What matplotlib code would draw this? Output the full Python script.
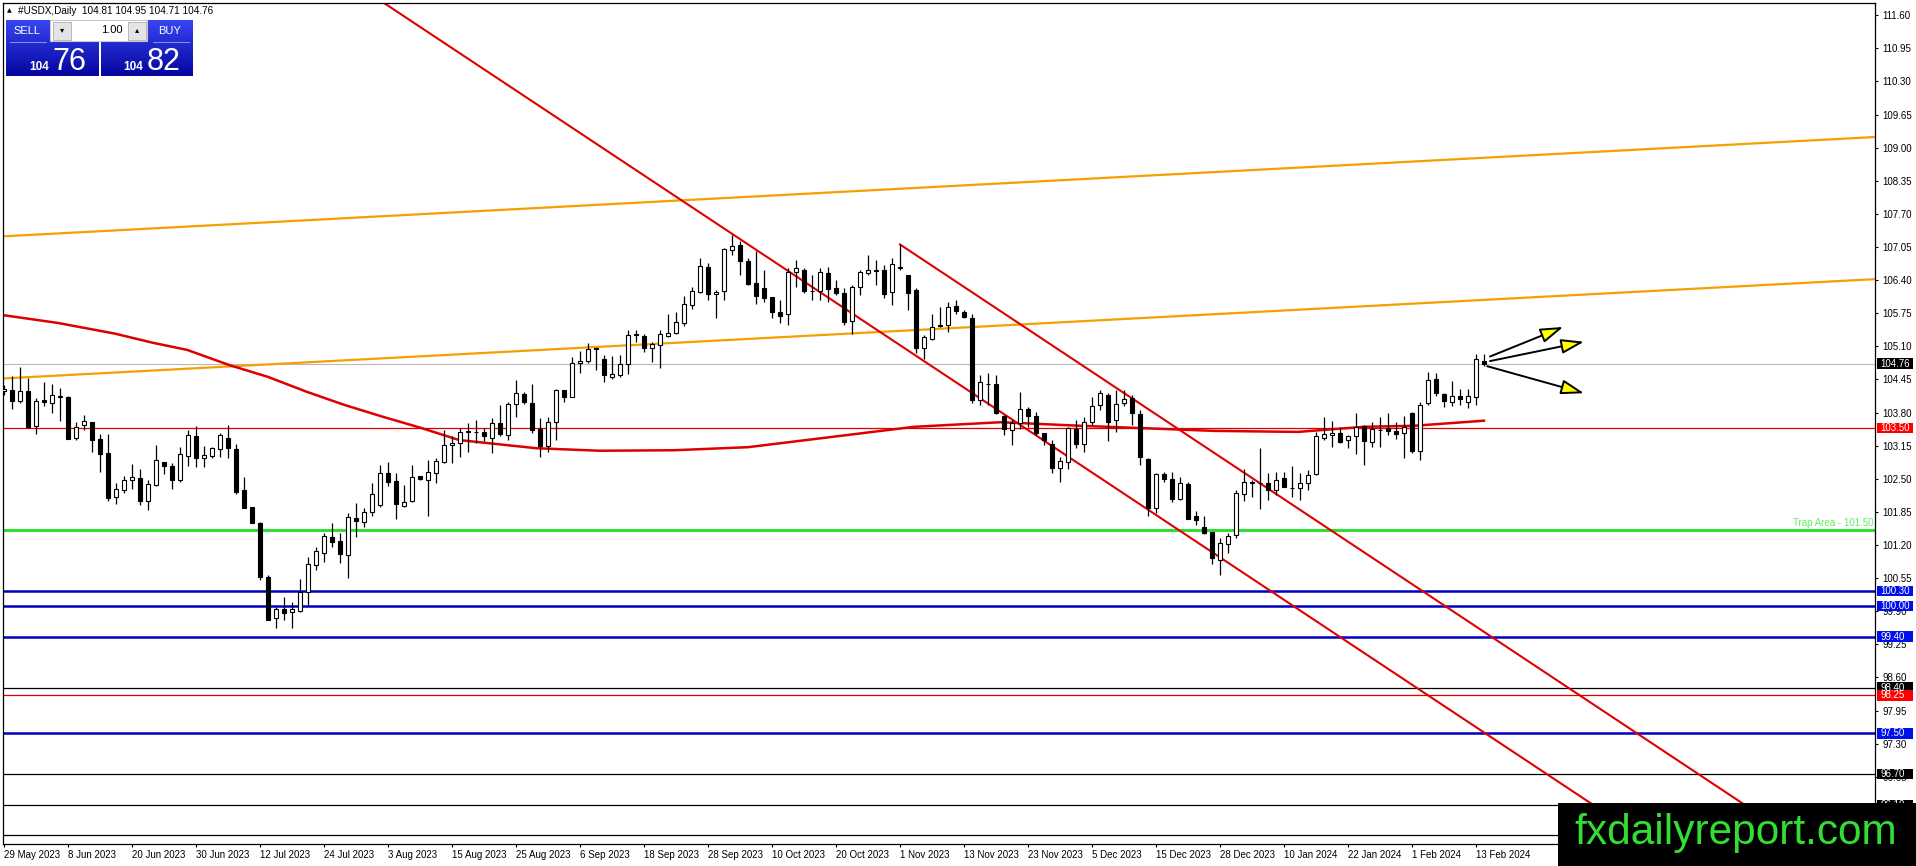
import numpy as np
import matplotlib
matplotlib.use('Agg')
import matplotlib.pyplot as plt
import matplotlib.transforms as mtransforms
from matplotlib.patches import Rectangle, FancyArrowPatch

# daily bars 29 May 2023 .. 14 Feb 2024 (o, h, l, c)
ohlc = [
    (104.23, 104.35, 104.15, 104.27), (104.25, 104.52, 103.86, 104.03), (104.03, 104.70, 103.99, 104.22),
    (104.22, 104.47, 103.49, 103.51), (103.54, 104.08, 103.37, 104.03), (104.05, 104.39, 103.92, 104.00),
    (103.98, 104.36, 103.80, 104.14), (104.11, 104.29, 103.64, 104.12), (104.11, 104.12, 103.28, 103.29),
    (103.31, 103.62, 103.27, 103.52), (103.55, 103.75, 103.46, 103.63), (103.62, 103.62, 103.03, 103.26),
    (103.29, 103.38, 102.64, 102.99), (103.00, 103.38, 102.06, 102.13), (102.14, 102.41, 102.00, 102.29),
    (102.27, 102.55, 102.23, 102.48), (102.48, 102.79, 102.29, 102.53), (102.51, 102.70, 101.99, 102.07),
    (102.07, 102.48, 101.89, 102.40), (102.38, 103.16, 102.36, 102.87), (102.82, 102.82, 102.59, 102.76),
    (102.75, 102.80, 102.30, 102.48), (102.48, 103.13, 102.44, 102.98), (102.95, 103.46, 102.75, 103.36),
    (103.34, 103.53, 102.74, 102.90), (102.91, 103.14, 102.74, 102.97), (102.95, 103.13, 102.90, 103.10),
    (103.08, 103.39, 102.93, 103.36), (103.31, 103.55, 102.90, 103.10), (103.08, 103.18, 102.21, 102.25),
    (102.27, 102.54, 101.93, 101.93), (101.95, 101.95, 101.64, 101.64), (101.64, 101.66, 100.51, 100.58),
    (100.57, 100.61, 99.72, 99.73), (99.76, 99.99, 99.58, 99.94), (99.94, 100.17, 99.73, 99.87),
    (99.88, 100.09, 99.58, 99.94), (99.91, 100.53, 99.89, 100.27), (100.27, 100.96, 100.02, 100.82),
    (100.81, 101.17, 100.70, 101.08), (101.04, 101.43, 100.87, 101.38), (101.36, 101.64, 101.17, 101.25),
    (101.27, 101.43, 100.84, 101.02), (101.00, 101.82, 100.55, 101.74), (101.73, 102.03, 101.35, 101.68),
    (101.66, 101.92, 101.56, 101.85), (101.85, 102.41, 101.76, 102.21), (101.99, 102.77, 101.95, 102.62),
    (102.61, 102.82, 102.35, 102.44), (102.46, 102.61, 101.72, 102.00), (101.97, 102.38, 101.95, 102.05),
    (102.07, 102.78, 102.05, 102.53), (102.55, 102.55, 102.48, 102.49), (102.48, 102.87, 101.76, 102.63),
    (102.62, 102.90, 102.41, 102.84), (102.82, 103.46, 102.80, 103.16), (103.16, 103.33, 102.80, 103.20),
    (103.20, 103.49, 102.93, 103.42), (103.42, 103.59, 103.03, 103.43), (103.41, 103.65, 103.20, 103.41),
    (103.42, 103.50, 103.25, 103.33), (103.31, 103.70, 103.00, 103.59), (103.60, 103.95, 103.33, 103.37),
    (103.36, 104.01, 103.26, 103.96), (103.96, 104.44, 103.72, 104.18), (104.16, 104.20, 103.96, 104.00),
    (103.98, 104.36, 103.39, 103.46), (103.47, 103.69, 102.92, 103.15), (103.15, 103.72, 103.02, 103.62),
    (103.62, 104.27, 103.26, 104.25), (104.25, 104.25, 104.01, 104.10), (104.11, 104.90, 104.11, 104.78),
    (104.78, 105.00, 104.57, 104.82), (104.82, 105.16, 104.78, 105.04), (105.06, 105.07, 104.63, 105.05),
    (104.86, 104.93, 104.40, 104.54), (104.50, 104.91, 104.45, 104.55), (104.54, 104.93, 104.50, 104.76),
    (104.75, 105.43, 104.56, 105.32), (105.34, 105.42, 105.19, 105.33), (105.30, 105.35, 104.99, 105.06),
    (105.06, 105.19, 104.80, 105.14), (105.13, 105.42, 104.67, 105.35), (105.31, 105.73, 105.29, 105.37),
    (105.37, 105.78, 105.34, 105.57), (105.55, 106.09, 105.50, 105.94), (105.92, 106.27, 105.84, 106.18),
    (106.16, 106.83, 106.14, 106.68), (106.65, 106.74, 106.01, 106.12), (106.13, 106.20, 105.65, 106.17),
    (106.19, 107.04, 106.01, 107.02), (107.00, 107.28, 106.89, 107.07), (107.09, 107.17, 106.50, 106.78),
    (106.77, 106.83, 106.30, 106.33), (106.35, 106.97, 105.94, 106.09), (106.24, 106.60, 105.98, 106.05),
    (106.06, 106.06, 105.65, 105.77), (105.77, 106.01, 105.55, 105.70), (105.73, 106.63, 105.52, 106.56),
    (106.55, 106.79, 106.27, 106.64), (106.60, 106.63, 106.15, 106.19), (106.19, 106.50, 106.01, 106.18),
    (106.19, 106.63, 106.01, 106.55), (106.54, 106.65, 105.97, 106.22), (106.24, 106.41, 106.11, 106.15),
    (106.14, 106.24, 105.52, 105.58), (105.60, 106.30, 105.35, 106.26), (106.26, 106.60, 106.11, 106.55),
    (106.53, 106.89, 106.50, 106.60), (106.59, 106.79, 106.30, 106.58), (106.60, 106.69, 106.04, 106.12),
    (106.16, 106.84, 105.91, 106.71), (106.66, 107.10, 106.60, 106.63), (106.50, 106.50, 105.81, 106.14),
    (106.20, 106.24, 104.96, 105.06), (105.07, 105.32, 104.86, 105.28), (105.24, 105.74, 105.22, 105.48),
    (105.51, 105.88, 105.48, 105.50), (105.52, 105.97, 105.39, 105.88), (105.89, 106.01, 105.73, 105.79),
    (105.78, 105.81, 105.65, 105.67), (105.65, 105.73, 103.98, 104.05), (104.05, 104.53, 103.95, 104.39),
    (104.37, 104.57, 103.95, 104.37), (104.36, 104.54, 103.78, 103.80), (103.73, 103.75, 103.36, 103.47),
    (103.46, 103.65, 103.16, 103.59), (103.59, 104.20, 103.47, 103.86), (103.87, 103.90, 103.52, 103.74),
    (103.73, 103.82, 103.36, 103.40), (103.39, 103.40, 103.16, 103.27), (103.19, 103.27, 102.61, 102.72),
    (102.72, 102.93, 102.44, 102.84), (102.82, 103.52, 102.70, 103.49), (103.48, 103.65, 103.10, 103.18),
    (103.18, 103.72, 103.03, 103.62), (103.62, 104.10, 103.55, 103.93), (103.95, 104.24, 103.85, 104.18),
    (104.14, 104.18, 103.25, 103.62), (103.65, 104.25, 103.42, 103.96), (103.98, 104.25, 103.93, 104.06),
    (104.08, 104.14, 103.55, 103.80), (103.78, 103.85, 102.77, 102.93), (102.88, 102.90, 101.76, 101.92),
    (101.92, 102.62, 101.82, 102.59), (102.59, 102.63, 102.44, 102.49), (102.49, 102.63, 102.05, 102.10),
    (102.10, 102.53, 102.08, 102.41), (102.40, 102.43, 101.72, 101.72), (101.76, 101.87, 101.59, 101.69),
    (101.55, 101.76, 101.42, 101.44), (101.45, 101.46, 100.83, 100.94), (100.91, 101.33, 100.61, 101.23),
    (101.21, 101.43, 101.04, 101.38), (101.40, 102.27, 101.33, 102.23), (102.21, 102.70, 102.07, 102.44),
    (102.44, 102.48, 102.15, 102.42), (102.42, 103.10, 101.90, 102.42), (102.41, 102.62, 102.08, 102.27),
    (102.27, 102.64, 102.18, 102.48), (102.51, 102.64, 102.33, 102.34), (102.32, 102.75, 102.15, 102.32),
    (102.31, 102.61, 102.08, 102.42), (102.42, 102.67, 102.28, 102.57), (102.59, 103.42, 102.57, 103.34),
    (103.31, 103.71, 103.26, 103.38), (103.36, 103.64, 103.13, 103.40), (103.39, 103.52, 103.21, 103.23),
    (103.26, 103.36, 103.10, 103.34), (103.34, 103.80, 102.98, 103.52), (103.54, 103.55, 102.77, 103.25),
    (103.23, 103.62, 103.13, 103.47), (103.46, 103.72, 103.13, 103.46), (103.49, 103.80, 103.36, 103.44),
    (103.44, 103.61, 103.29, 103.38), (103.39, 103.73, 102.91, 103.52), (103.80, 103.82, 103.00, 103.05),
    (103.04, 104.01, 102.87, 103.95), (103.98, 104.60, 103.95, 104.44), (104.45, 104.57, 104.12, 104.18),
    (104.16, 104.18, 103.91, 104.03), (104.01, 104.42, 103.93, 104.13), (104.13, 104.26, 103.95, 104.06),
    (104.00, 104.27, 103.88, 104.13), (104.11, 104.95, 103.95, 104.86), (104.81, 104.95, 104.71, 104.76),
]

date_labels = ["29 May 2023", "8 Jun 2023", "20 Jun 2023", "30 Jun 2023", "12 Jul 2023", "24 Jul 2023",
               "3 Aug 2023", "15 Aug 2023", "25 Aug 2023", "6 Sep 2023", "18 Sep 2023", "28 Sep 2023",
               "10 Oct 2023", "20 Oct 2023", "1 Nov 2023", "13 Nov 2023", "23 Nov 2023", "5 Dec 2023",
               "15 Dec 2023", "28 Dec 2023", "10 Jan 2024", "22 Jan 2024", "1 Feb 2024", "13 Feb 2024"]
label_every = 8

# moving average (thick red curve), read at sampled bars
ma_x = [0, 6.7, 13.85, 18.6, 22.9, 28.2, 33, 37.8, 42.55, 47.3, 52.1, 56.9, 61.7, 66.5, 74.5,
        83.75, 93, 103.4, 113.75, 124.6, 134.6, 151.25, 161.75, 170, 176.25, 185]
ma_y = [105.71, 105.56, 105.35, 105.17, 105.03, 104.73, 104.50, 104.21, 103.95, 103.72, 103.50,
        103.26, 103.18, 103.10, 103.05, 103.06, 103.12, 103.32, 103.52, 103.61, 103.54, 103.44,
        103.42, 103.52, 103.54, 103.64]

# orange rising channel (two points each: bar, price)
orange_lines = [((0, 104.47), (234, 106.42)), ((0, 107.26), (234, 109.21))]
# red falling lines
red_line_a = ((47.6, 111.83), (198.25, 96.14))
red_line_b = ((112, 107.10), (217.2, 96.14))

# horizontal levels: price, colour, width, label style (the 95.50 label sits under the watermark)
levels = [
    (104.76, '#b8b8b8', 0.8, 'black'),
    (103.50, '#e00000', 0.9, 'red'),
    (101.50, '#33dd33', 2.2, None),
    (100.30, '#0000c0', 1.8, 'blue'),
    (100.00, '#0000c0', 1.8, 'blue'),
    (99.40, '#0000c0', 1.8, 'blue'),
    (98.40, '#000000', 0.9, 'black'),
    (98.25, '#e00000', 0.9, 'red'),
    (97.50, '#0000c0', 1.8, 'blue'),
    (96.70, '#000000', 0.9, 'black'),
    (96.10, '#000000', 0.9, 'black'),
    (95.50, '#000000', 0.9, None),
]
label_bg = {'black': '#000000', 'red': '#ff0000', 'blue': '#0010e8'}

price_ticks = [111.60, 110.95, 110.30, 109.65, 109.00, 108.35, 107.70, 107.05, 106.40, 105.75,
               105.10, 104.45, 103.80, 103.15, 102.50, 101.85, 101.20, 100.55, 99.90, 99.25,
               98.60, 97.95, 97.30, 96.65]

# outlook arrows from the last bar
arrow_from = [(185.75, 104.90), (185.75, 104.81), (185.4, 104.71)]
arrow_to = [(194.9, 105.48), (197.5, 105.19), (197.5, 104.18)]

W, H = 1916, 866
fig = plt.figure(figsize=(W / 100, H / 100), dpi=100)
fig.patch.set_facecolor('white')
L, R, T, B = 2.7, 1875, 3, 844
ax = fig.add_axes([L / W, 1 - B / H, (R - L) / W, (B - T) / H])
ax.set_xlim(-0.16, (R - 4) / 8)
ax.set_ylim(95.33, 111.84)
for s in ax.spines.values():
    s.set_linewidth(0.9)
    s.set_color('black')

o = np.array([b[0] for b in ohlc])
h = np.array([b[1] for b in ohlc])
l = np.array([b[2] for b in ohlc])
c = np.array([b[3] for b in ohlc])
x = np.arange(len(ohlc))

# levels
for p, col, lw, _ in levels:
    ax.axhline(p, color=col, lw=lw, zorder=1)
ax.text(0.999, 101.50 + 0.04, 'Trap Area - 101.50', transform=mtransforms.blended_transform_factory(ax.transAxes, ax.transData),
        ha='right', va='bottom', color='#5ef05e', fontsize=7, family='Liberation Sans')

for p1, p2 in orange_lines:
    ax.axline(p1, p2, color='#f5a000', lw=1.6, zorder=1.5)

ax.axline(red_line_a[0], red_line_a[1], color='#e00000', lw=1.5, zorder=1.6)
(xb0, yb0), (xb1, yb1) = red_line_b
k = (yb1 - yb0) / (xb1 - xb0)
ax.plot([xb0, 260], [yb0, yb0 + k * (260 - xb0)], color='#e00000', lw=1.5, zorder=1.6)

ax.plot(ma_x, ma_y, color='#dd0000', lw=1.8, zorder=1.7, solid_joinstyle='round')

# candles
ax.vlines(x, l, h, color='black', lw=0.9, zorder=3)
up = c >= o
bw = 0.58
ax.bar(x[up], (c - o)[up], bottom=o[up], width=bw, facecolor='white', edgecolor='black', lw=0.8, zorder=4)
ax.bar(x[~up], (o - c)[~up], bottom=c[~up], width=bw, facecolor='black', edgecolor='black', lw=0.8, zorder=4)

# arrows
for a, b in zip(arrow_from, arrow_to):
    ax.add_patch(FancyArrowPatch(a, b, arrowstyle='-|>,head_length=1.4,head_width=0.45', mutation_scale=10,
                                 fc='#ffff00', ec='black', lw=1.4, zorder=6, shrinkA=0, shrinkB=0))

# axes ticks
ax.yaxis.tick_right()
ax.set_yticks(price_ticks)
ax.set_yticklabels([f'{v:.2f}' for v in price_ticks])
ax.tick_params(axis='y', length=2.5, width=0.8, pad=3, labelsize=7)
tick_pos = [i * label_every for i in range(len(date_labels))]
ax.set_xticks(tick_pos)
ax.set_xticklabels(date_labels)
ax.tick_params(axis='x', length=2.5, width=0.8, pad=1.5, labelsize=7)
for t in ax.get_xticklabels() + ax.get_yticklabels():
    t.set_family('Liberation Sans')
for t in ax.get_xticklabels():
    t.set_horizontalalignment('left')

# overlay in pixel coordinates for labels, trade panel and watermark
ov = fig.add_axes([0, 0, 1, 1], zorder=10)
ov.set_xlim(0, W)
ov.set_ylim(H, 0)
ov.axis('off')
ov.patch.set_alpha(0)

blend = mtransforms.blended_transform_factory(ov.transData, ax.transData)
hpx = 10.5 / 50.96
for p, col, lw, style in levels:
    if style is None:
        continue
    ov.add_patch(Rectangle((1877, p - hpx / 2), 36, hpx, transform=blend, facecolor=label_bg[style],
                           edgecolor='none', clip_on=False, zorder=5))
    ov.text(1880.5, p, f'{p:.2f}', transform=blend, color='white', fontsize=7, va='center', ha='left',
            family='Liberation Sans', clip_on=False, zorder=6)

# header
ov.text(9, 11, '▲', fontsize=4.5, ha='center', va='center', color='black', family='DejaVu Sans')
ov.text(18, 11, '#USDX,Daily  104.81 104.95 104.71 104.76', fontsize=7.2, ha='left', va='center',
        color='black', family='Liberation Sans')

# trade panel
grad = np.linspace(0, 1, 50)[:, None]
top_col = np.array([0.22, 0.27, 0.95])
bot_col = np.array([0.02, 0.02, 0.62])
img = (top_col[None, None, :] * (1 - grad[:, :, None]) + bot_col[None, None, :] * grad[:, :, None])
for x0, x1 in [(6, 99), (101, 193)]:
    ov.imshow(img, extent=(x0, x1, 76, 20), aspect='auto', zorder=2, interpolation='bilinear')
ov.add_patch(Rectangle((50, 20), 97, 21, facecolor='white', edgecolor='#c8c8c8', lw=0.8, zorder=3))
ov.add_patch(Rectangle((53, 21.5), 18, 18, facecolor='#e4e4e4', edgecolor='#b0b0b0', lw=0.6, zorder=4))
ov.add_patch(Rectangle((128, 21.5), 18, 18, facecolor='#e4e4e4', edgecolor='#b0b0b0', lw=0.6, zorder=4))
ov.add_patch(Rectangle((99, 42), 2, 34, facecolor='white', edgecolor='none', zorder=4))
ov.text(62, 29.5, '▾', fontsize=6, ha='center', va='center', color='black', zorder=5)
ov.text(137, 29.5, '▴', fontsize=6, ha='center', va='center', color='black', zorder=5)
ov.text(123, 30, '1.00', fontsize=8, ha='right', va='center', color='black', family='Liberation Sans', zorder=5)
ov.text(27, 31, 'SELL', fontsize=8, ha='center', va='center', color='white', family='Liberation Sans', zorder=5)
ov.text(170, 31, 'BUY', fontsize=8, ha='center', va='center', color='white', family='Liberation Sans', zorder=5)
ov.plot([10, 46], [42, 42], color='#9aa4f0', lw=0.6, zorder=5)
ov.plot([153, 189], [42, 42], color='#9aa4f0', lw=0.6, zorder=5)
ov.text(39, 70, '104', fontsize=8.5, ha='center', va='baseline', color='white', weight='bold',
        family='Liberation Sans', zorder=5)
ov.text(69, 70, '76', fontsize=22, ha='center', va='baseline', color='white', family='Liberation Sans', zorder=5)
ov.text(133, 70, '104', fontsize=8.5, ha='center', va='baseline', color='white', weight='bold',
        family='Liberation Sans', zorder=5)
ov.text(164, 70, '82', fontsize=22, ha='center', va='baseline', color='white', family='Liberation Sans', zorder=5)

# watermark
ov.add_patch(Rectangle((1558, 803), W - 1558, H - 803, facecolor='black', edgecolor='none', zorder=8))
ov.text(1736, 844, 'fxdailyreport.com', fontsize=30.5, ha='center', va='baseline', color='#33dd33',
        family='Liberation Sans', zorder=9)

fig.savefig('out.png', dpi=100)
